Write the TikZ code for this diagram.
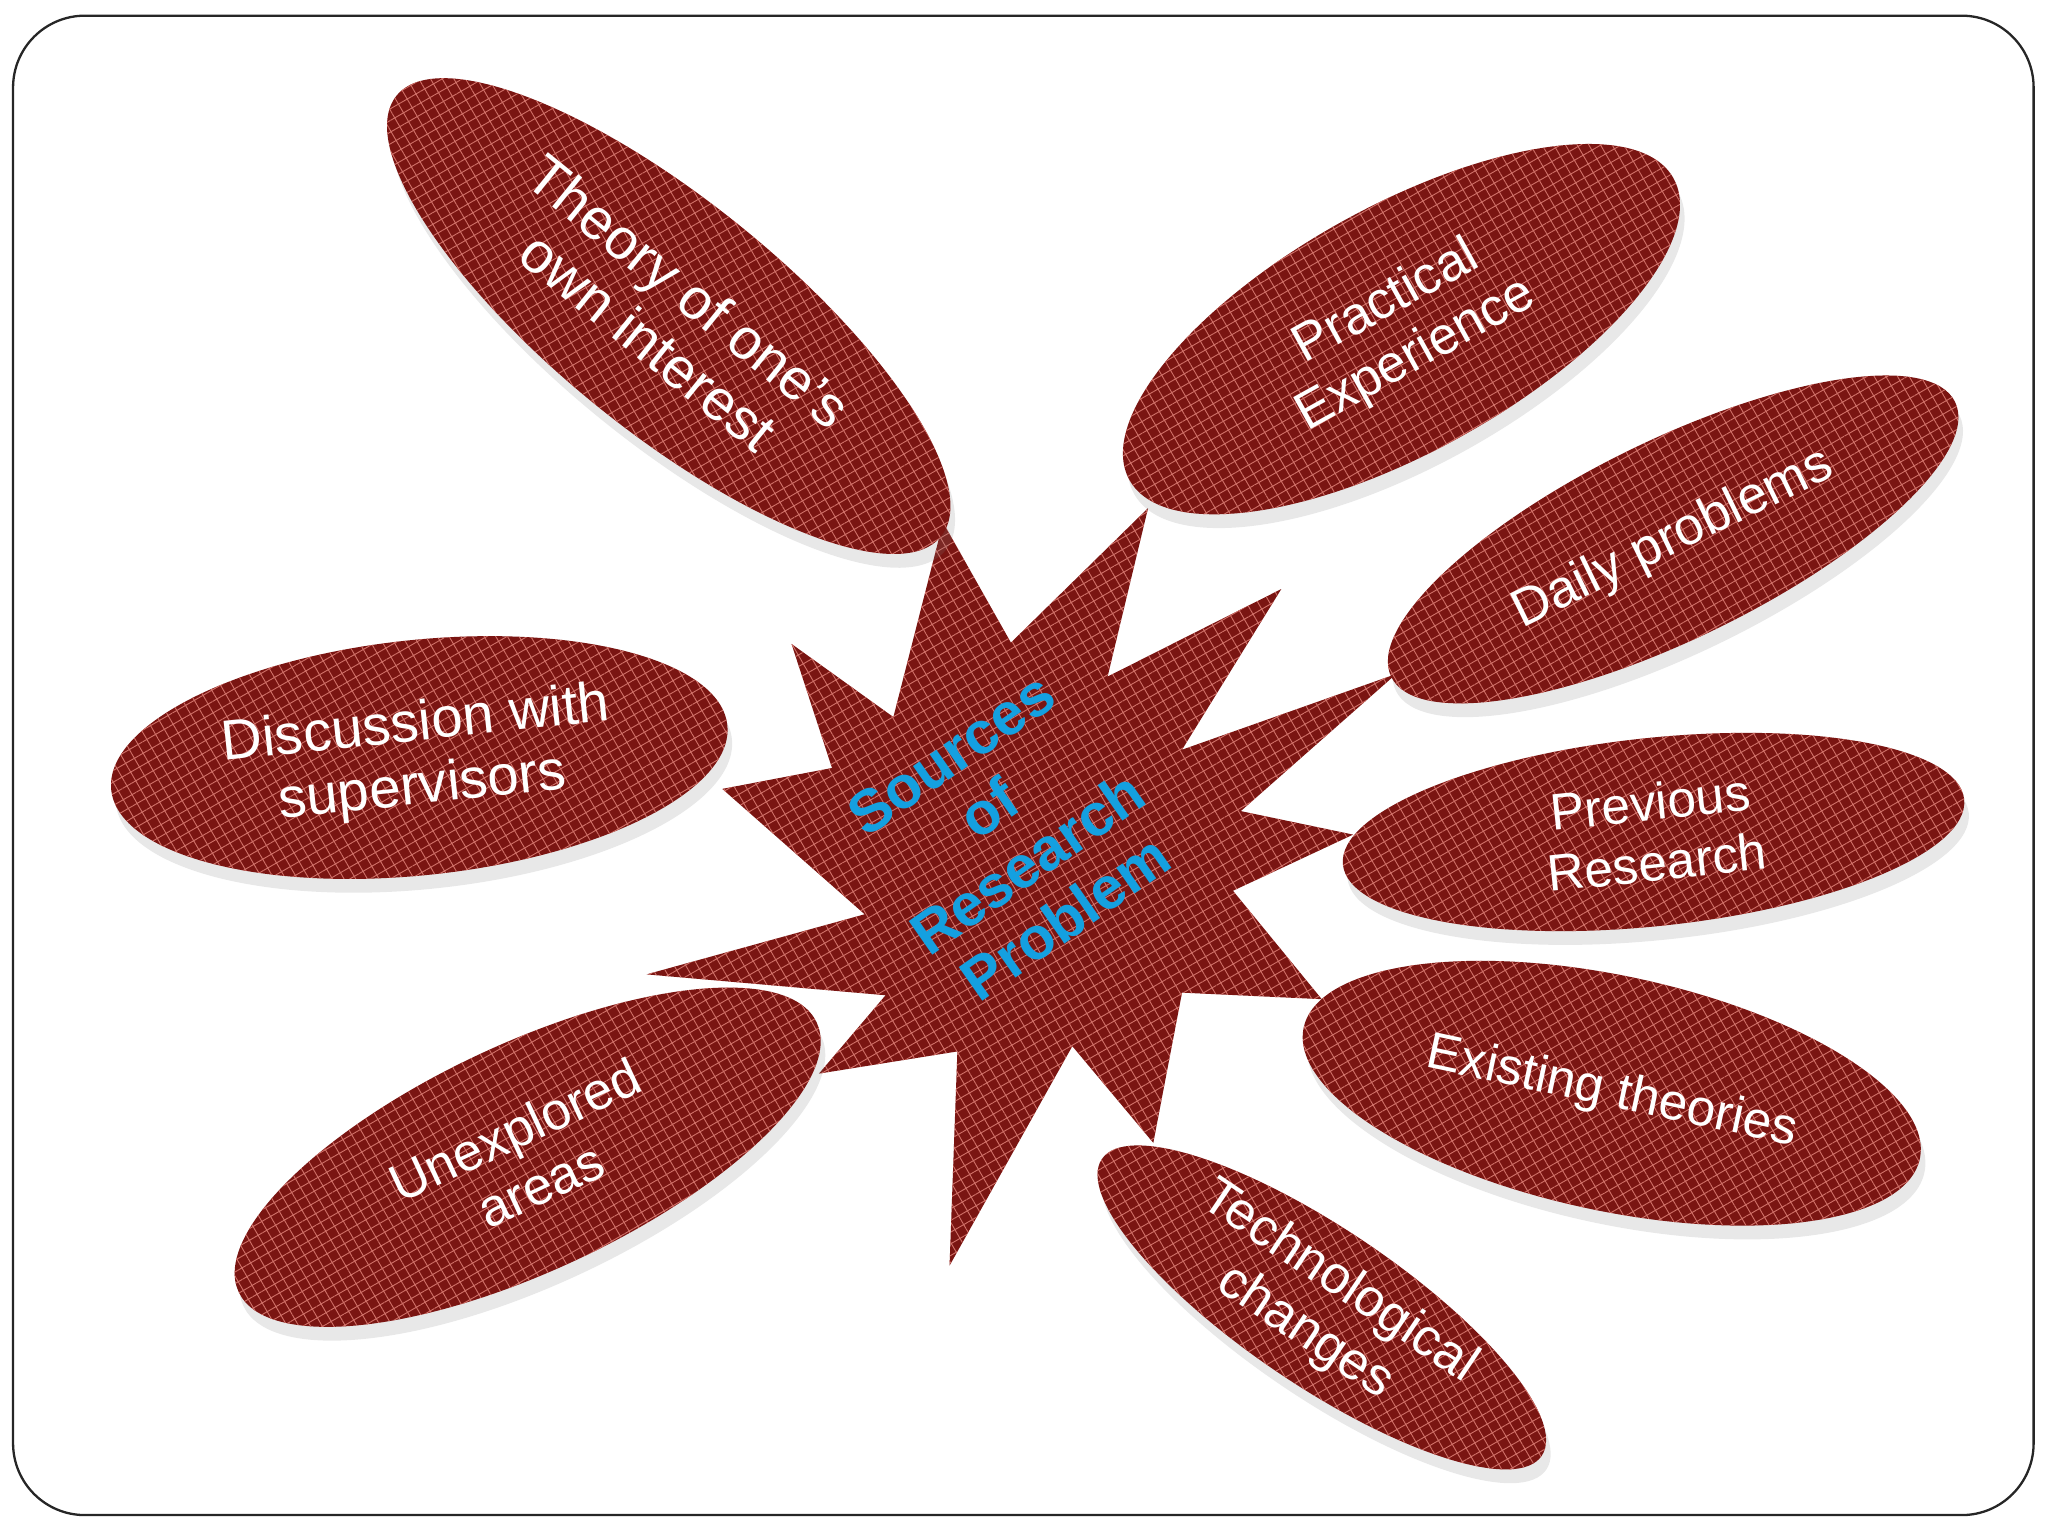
\documentclass[tikz,border=0pt]{standalone}
\usepackage{fontspec}
\setmainfont{Liberation Sans}
\usetikzlibrary{shapes.geometric,shadows,patterns.meta}
\definecolor{maroon}{HTML}{7A1512}
\definecolor{weave}{HTML}{D07068}
\definecolor{skyblue}{HTML}{14A0E0}
\begin{document}
\begin{tikzpicture}[x=0.01cm, y=-0.01cm,
	cloth/.style={fill=maroon, postaction={pattern={Hatch[angle=30, distance=2.2pt, line width=0.2pt]}, pattern color=weave, fill opacity=0.16}},
	source/.style={cloth, ellipse, inner sep=0pt, text=white, align=center, font=\fontsize{11.5}{13.2}\selectfont, drop shadow={shadow xshift=1pt, shadow yshift=-3pt, opacity=0.18}}]
\useasboundingbox (0,0) rectangle (1568,1176);
\draw[line width=0.5pt, black!85, rounded corners=0.55cm] (10,12) rectangle (1557,1160);

% star points
\coordinate (tA) at (722,400);
\coordinate (tB) at (879,389);
\coordinate (tC) at (981,451);
\coordinate (tD) at (1069,516);
\coordinate (tE) at (1036,639);
\coordinate (tF) at (1012,765);
\coordinate (tG) at (883,875);
\coordinate (tH) at (727,969);
\coordinate (tI) at (627,822);
\coordinate (tJ) at (495,746);
\coordinate (tK) at (553,604);
\coordinate (tL) at (606,493);
\fill[cloth] (tA) -- (774,492) -- (tB) -- (848,518) -- (tC) -- (905,574) -- (tD) -- (950,621)
	-- (tE) -- (944,682) -- (tF) -- (905,760) -- (tG) -- (821,801) -- (tH) -- (733,805)
	-- (tI) -- (678,762) -- (tJ) -- (662,700) -- (tK) -- (637,588) -- (tL) -- (684,549) -- cycle;
\node[text=skyblue, align=center, rotate=35, font=\bfseries\fontsize{13}{14.5}\selectfont] (title) at (772,640) {Sources\\of\\Research\\Problem};

% sources
\node[source, minimum width=5.36cm, minimum height=1.76cm, rotate=-39, font=\fontsize{12.5}{14}\selectfont] (theory) at (512,242) {Theory of one’s\\own interest};
\node[source, minimum width=4.76cm, minimum height=1.88cm, rotate=29] (practical) at (1073,252) {Practical\\Experience};
\node[source, minimum width=4.80cm, minimum height=1.52cm, rotate=26] (daily) at (1281,413) {Daily problems};
\node[source, minimum width=4.74cm, minimum height=1.80cm, rotate=6, font=\fontsize{12.3}{13.8}\selectfont] (discussion) at (321,580) {Discussion with\\supervisors};
\node[source, minimum width=4.78cm, minimum height=1.44cm, rotate=6, font=\fontsize{11.2}{13.2}\selectfont] (previous) at (1266,637) {Previous\\Research};
\node[source, minimum width=4.82cm, minimum height=1.80cm, rotate=-12, font=\fontsize{11.2}{13}\selectfont] (existing) at (1234,837) {Existing theories};
\node[source, minimum width=4.88cm, minimum height=1.74cm, rotate=25] (unexplored) at (404,886) {Unexplored\\areas};
\node[source, minimum width=4.06cm, minimum height=1.20cm, rotate=-34] (technological) at (1012,1001) {Technological\\changes};
\end{tikzpicture}
\end{document}
